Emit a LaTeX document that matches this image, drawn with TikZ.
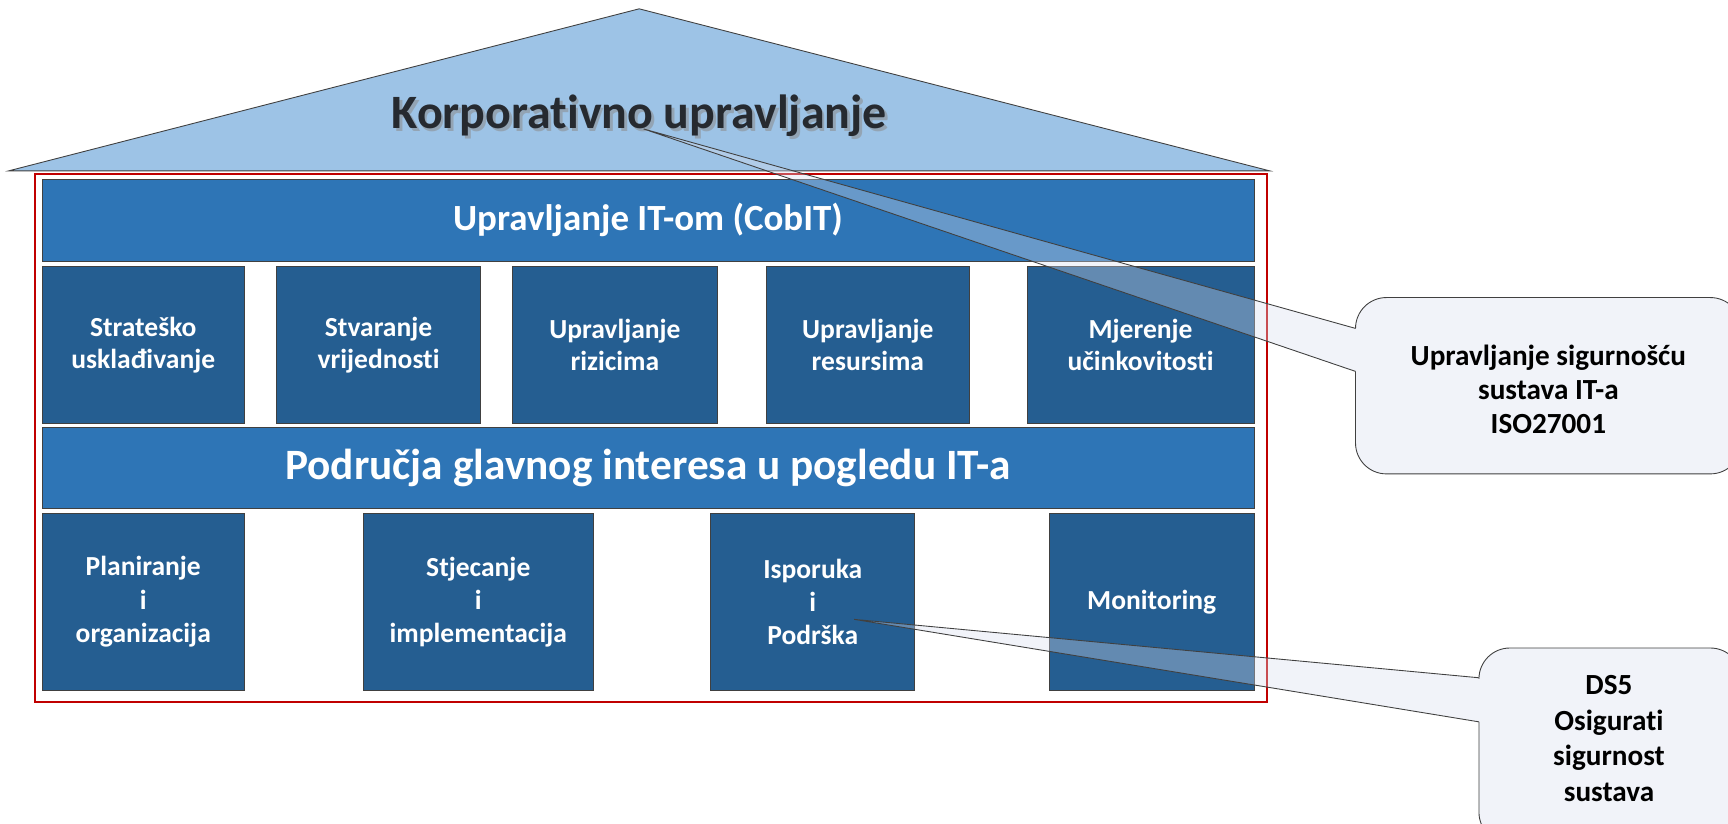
\documentclass[tikz,border=0pt]{standalone}
\usepackage{fontspec}
\setmainfont{Carlito}[Ligatures=NoCommon]
\definecolor{roofblue}{HTML}{9DC3E6}
\definecolor{barblue}{HTML}{2E75B6}
\definecolor{boxblue}{HTML}{255E91}
\definecolor{edgegray}{HTML}{404040}
\definecolor{rooftext}{HTML}{262A30}
\definecolor{framered}{HTML}{C00000}
\definecolor{callfill}{HTML}{D7DDED}
\begin{document}
\begin{tikzpicture}[x=1pt,y=-1pt,
  bar/.style={draw=edgegray,line width=0.6pt,fill=barblue,text=white,inner sep=0pt,minimum width=1100pt},
  pillar/.style={draw=edgegray,line width=0.6pt,fill=boxblue,text=white,inner sep=0pt,align=center,
     font=\bfseries\fontsize{25}{29.5}\selectfont},
  calltext/.style={text=black,align=center,font=\bfseries\fontsize{26.5}{31}\selectfont},
  callout/.style={fill=callfill,fill opacity=0.35},
  calledge/.style={draw=edgegray,line width=0.8pt}]
\clip (0,0) rectangle (1568,747);
% roof
\coordinate (apex) at (580,8);
\coordinate (roofL) at (8,155);
\coordinate (roofR) at (1152,155);
\draw[fill=roofblue,draw=edgegray,line width=0.8pt] (roofL) -- (apex) -- (roofR) -- cycle;
\node[text=black!45,opacity=0.55,font=\bfseries\fontsize{43.5}{48}\selectfont] (roofshadow) at (582.5,107.5) {Korporativno upravljanje};
\node[text=rooftext,font=\bfseries\fontsize{43.5}{48}\selectfont] (roof) at (580,105) {Korporativno upravljanje};
% frame
\draw[framered,line width=2pt] (32,158) rectangle (1150,637);
% bars
\node[bar,minimum height=74pt,font=\bfseries\fontsize{33.5}{40}\selectfont] (gov) at (588,200) {Upravljanje IT-om (CobIT)};
\node[bar,minimum height=73pt,font=\bfseries\fontsize{39.3}{44}\selectfont] (focus) at (588,424.5) {Područja glavnog interesa u pogledu IT-a};
% top row
\node[pillar,minimum width=184pt,minimum height=142pt] (p1) at (130,313) {Strateško\\usklađivanje};
\node[pillar,minimum width=185pt,minimum height=142pt] (p2) at (343.5,313) {Stvaranje\\vrijednosti};
\node[pillar,minimum width=186pt,minimum height=142pt] (p3) at (558,313) {Upravljanje\\rizicima};
\node[pillar,minimum width=185pt,minimum height=142pt] (p4) at (787.5,313) {Upravljanje\\resursima};
\node[pillar,minimum width=206pt,minimum height=142pt] (p5) at (1035,313) {Mjerenje\\učinkovitosti};
% bottom row
\node[pillar,minimum width=184pt,minimum height=160pt,font=\bfseries\fontsize{25}{30}\selectfont] (d1) at (130,546) {Planiranje\\i\\organizacija};
\node[pillar,minimum width=208pt,minimum height=160pt,font=\bfseries\fontsize{25}{30}\selectfont] (d2) at (434,546) {Stjecanje\\i\\implementacija};
\node[pillar,minimum width=185pt,minimum height=160pt,font=\bfseries\fontsize{25}{30}\selectfont] (d3) at (737.5,546) {Isporuka\\i\\Podrška};
\node[pillar,minimum width=186pt,minimum height=160pt] (d4) at (1045,546) {Monitoring};
% callout 1
\coordinate (tip1) at (584,117);
\coordinate (c1a) at (1230,298);
\coordinate (c1b) at (1230,337);
\fill[callout] [rounded corners=28pt] (1230,270) -- (1580,270) -- (1580,430) -- (1230,430) -- cycle
  [sharp corners] (c1b) -- (tip1) -- (c1a) -- cycle;
\draw[calledge,rounded corners=28pt] (c1b) -- (1230,430) -- (1580,430) -- (1580,270) -- (1230,270) -- (c1a);
\draw[calledge,line join=miter] (c1a) -- (tip1) -- (c1b);
\node[calltext] (iso) at (1405,353) {Upravljanje sigurnošću\\sustava IT-a\\ISO27001};
% callout 2
\coordinate (tip2) at (775,562);
\coordinate (c2a) at (1342,615);
\coordinate (c2b) at (1342,655);
\fill[callout] [rounded corners=28pt] (1342,588) -- (1580,588) -- (1580,765) -- (1342,765) -- cycle
  [sharp corners] (c2b) -- (tip2) -- (c2a) -- cycle;
\draw[calledge,rounded corners=28pt] (c2b) -- (1342,765) -- (1580,765) -- (1580,588) -- (1342,588) -- (c2a);
\draw[calledge,line join=miter] (c2a) -- (tip2) -- (c2b);
\node[calltext,font=\bfseries\fontsize{26.5}{32.3}\selectfont] (ds5) at (1460,670) {DS5\\Osigurati\\sigurnost\\sustava};
\end{tikzpicture}
\end{document}
